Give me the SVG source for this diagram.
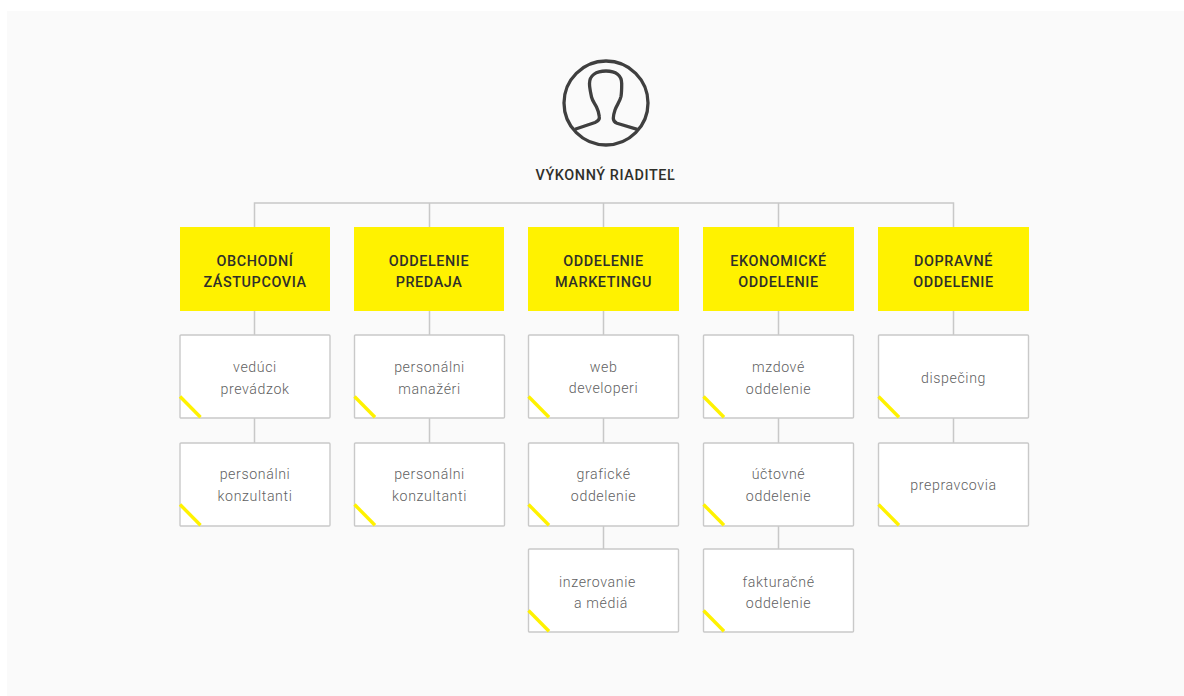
<svg xmlns="http://www.w3.org/2000/svg" width="1184" height="696" viewBox="0 0 1184 696">
<style>
text{font-family:Roboto,"Liberation Sans",sans-serif;text-anchor:middle}
.h{font-size:14.400px;font-weight:500;fill:#2f2f2a;letter-spacing:.6px}
.t{font-size:14.200px;font-weight:300;fill:#5f5f62;letter-spacing:.6px}
.head{fill:#fff200}
.box{fill:#fff;stroke:#c9c9c9;stroke-width:1.400}
.c{fill:none;stroke:#c8c8c8;stroke-width:1.500}
.y{stroke:#fff200;stroke-width:3.400;fill:none}
.i{fill:none;stroke:#3f3f3f;stroke-width:3.300}
</style>
<defs>
<g id="card"><rect class="box" x="0" y="0" width="150" height="83" rx="1"/><path class="y" d="M0 61.500L20.500 82.300"/></g>
</defs>
<rect width="1184" height="696" fill="#fff"/>
<rect x="7" y="11" width="1177" height="685" fill="#fafafa"/>
<g id="connectors">
<path class="c" d="M254.500 227V203H953.500V227M429.500 203V227M603.500 203V227M778.500 203V227"/>
<path class="c" d="M254.500 311V335M254.500 418V443M429.500 311V335M429.500 418V443M603.500 311V335M603.500 418V443M603.500 526V549M778.500 311V335M778.500 418V443M778.500 526V549M953.500 311V335M953.500 418V443"/>
</g>
<g id="director">
<circle class="i" cx="606" cy="103" r="42"/>
<path class="i" d="M575 129.300L595 122.500C598.500 121 599.800 119.500 599.300 116.500C598.800 112.500 598 110 596.500 107C594.500 103 592.500 101 591.500 97C590.500 92 589.500 88 589.500 83.500C589.500 75.500 596 71 606 71C616 71 621.700 75.500 621.700 83.500C621.700 88 621.700 92.500 621 96.500C620 101.500 616.500 105.500 615 110C614 113 613.300 115.500 613.300 118.300C613.300 121 615 122.500 617 123.300L637.300 129.300"/>
<text class="h" x="605.500" y="180">VÝKONNÝ RIADITEĽ</text>
</g>
<g id="n1"><rect class="head" x="180" y="227" width="150" height="84"/><text class="h" x="255" y="266">OBCHODNÍ</text><text class="h" x="255" y="287">ZÁSTUPCOVIA</text></g>
<g id="n2"><rect class="head" x="354" y="227" width="150" height="84"/><text class="h" x="429" y="266">ODDELENIE</text><text class="h" x="429" y="287">PREDAJA</text></g>
<g id="n3"><rect class="head" x="528" y="227" width="151" height="84"/><text class="h" x="603.500" y="266">ODDELENIE</text><text class="h" x="603.500" y="287">MARKETINGU</text></g>
<g id="n4"><rect class="head" x="703" y="227" width="151" height="84"/><text class="h" x="778.500" y="266">EKONOMICKÉ</text><text class="h" x="778.500" y="287">ODDELENIE</text></g>
<g id="n5"><rect class="head" x="878" y="227" width="151" height="84"/><text class="h" x="953.500" y="266">DOPRAVNÉ</text><text class="h" x="953.500" y="287">ODDELENIE</text></g>
<g id="n1a"><use href="#card" x="180" y="335"/><text class="t" x="255" y="372">vedúci</text><text class="t" x="255" y="394">prevádzok</text></g>
<g id="n1b"><use href="#card" x="180" y="443"/><text class="t" x="255" y="479">personálni</text><text class="t" x="255" y="501">konzultanti</text></g>
<g id="n2a"><use href="#card" x="354.500" y="335"/><text class="t" x="429.500" y="372">personálni</text><text class="t" x="429.500" y="394">manažéri</text></g>
<g id="n2b"><use href="#card" x="354.500" y="443"/><text class="t" x="429.500" y="479">personálni</text><text class="t" x="429.500" y="501">konzultanti</text></g>
<g id="n3a"><use href="#card" x="528.500" y="335"/><text class="t" x="603.500" y="372">web</text><text class="t" x="603.500" y="393">developeri</text></g>
<g id="n3b"><use href="#card" x="528.500" y="443"/><text class="t" x="603.500" y="479">grafické</text><text class="t" x="603.500" y="501">oddelenie</text></g>
<g id="n3c"><use href="#card" x="528.500" y="549"/><text class="t" x="597.500" y="587">inzerovanie</text><text class="t" x="601" y="608">a médiá</text></g>
<g id="n4a"><use href="#card" x="703.500" y="335"/><text class="t" x="778.500" y="372">mzdové</text><text class="t" x="778.500" y="394">oddelenie</text></g>
<g id="n4b"><use href="#card" x="703.500" y="443"/><text class="t" x="778.500" y="479">účtovné</text><text class="t" x="778.500" y="501">oddelenie</text></g>
<g id="n4c"><use href="#card" x="703.500" y="549"/><text class="t" x="778.500" y="587">fakturačné</text><text class="t" x="778.500" y="608">oddelenie</text></g>
<g id="n5a"><use href="#card" x="878.500" y="335"/><text class="t" x="953.500" y="383">dispečing</text></g>
<g id="n5b"><use href="#card" x="878.500" y="443"/><text class="t" x="953.500" y="490">prepravcovia</text></g>
</svg>
